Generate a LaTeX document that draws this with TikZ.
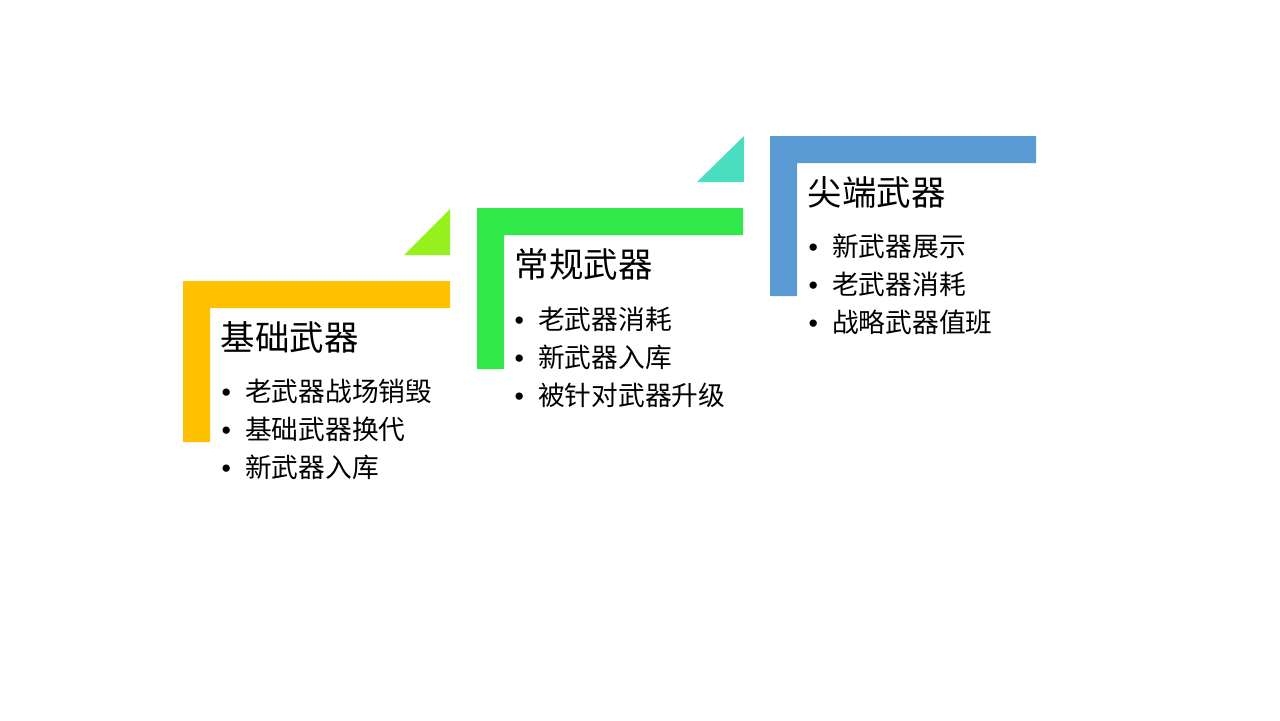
\documentclass[tikz,border=0pt]{standalone}
\usepackage{fontspec}
\newfontfamily\cjk{Noto Sans CJK SC}
\newfontfamily\lib{Liberation Sans}
\usetikzlibrary{positioning}

\definecolor{cyellow}{HTML}{FFC000}
\definecolor{clime}{HTML}{96F01E}
\definecolor{cgreen}{HTML}{30E84A}
\definecolor{cteal}{HTML}{4ADDC0}
\definecolor{cblue}{HTML}{5B9BD5}

\newcommand{\bul}[1]{\makebox[0.235cm][l]{\lib\char"2022}#1}

\begin{document}
\begin{tikzpicture}
        [x=0.01cm,y=-0.01cm,
         title/.style={anchor=west,inner sep=0pt,font=\cjk\fontsize{9.8}{12}\selectfont},
         item/.style={anchor=west,inner sep=0pt,font=\cjk\fontsize{7.6}{9}\selectfont}]
        \useasboundingbox (0,0) rectangle (1280,720);

        % corner pieces
        \fill[clime] (404,255) -- (450,255) -- (450,209) -- cycle;
        \fill[cteal] (697,182) -- (744,182) -- (744,136) -- cycle;
        \fill[cyellow] (183,281) -- (450,281) -- (450,308) -- (210,308) -- (210,442) -- (183,442) -- cycle;
        \fill[cgreen] (477,208) -- (743,208) -- (743,235) -- (504,235) -- (504,369) -- (477,369) -- cycle;
        \fill[cblue] (770,136) -- (1036,136) -- (1036,163) -- (797,163) -- (797,296) -- (770,296) -- cycle;

        % basic
        \node [title,name=t1] at (220,337) {基础武器};
        \node [item,name=a1] at (221,391) {\bul{老武器战场销毁}};
        \node [item,name=a2] at (221,429) {\bul{基础武器换代}};
        \node [item,name=a3] at (221,467) {\bul{新武器入库}};

        % conventional
        \node [title,name=t2] at (514,264) {常规武器};
        \node [item,name=b1] at (514,319) {\bul{老武器消耗}};
        \node [item,name=b2] at (514,357) {\bul{新武器入库}};
        \node [item,name=b3] at (514,395) {\bul{被针对武器升级}};

        % advanced
        \node [title,name=t3] at (807,192) {尖端武器};
        \node [item,name=c1] at (808,246) {\bul{新武器展示}};
        \node [item,name=c2] at (808,284) {\bul{老武器消耗}};
        \node [item,name=c3] at (808,322) {\bul{战略武器值班}};
    \end{tikzpicture}
\end{document}
